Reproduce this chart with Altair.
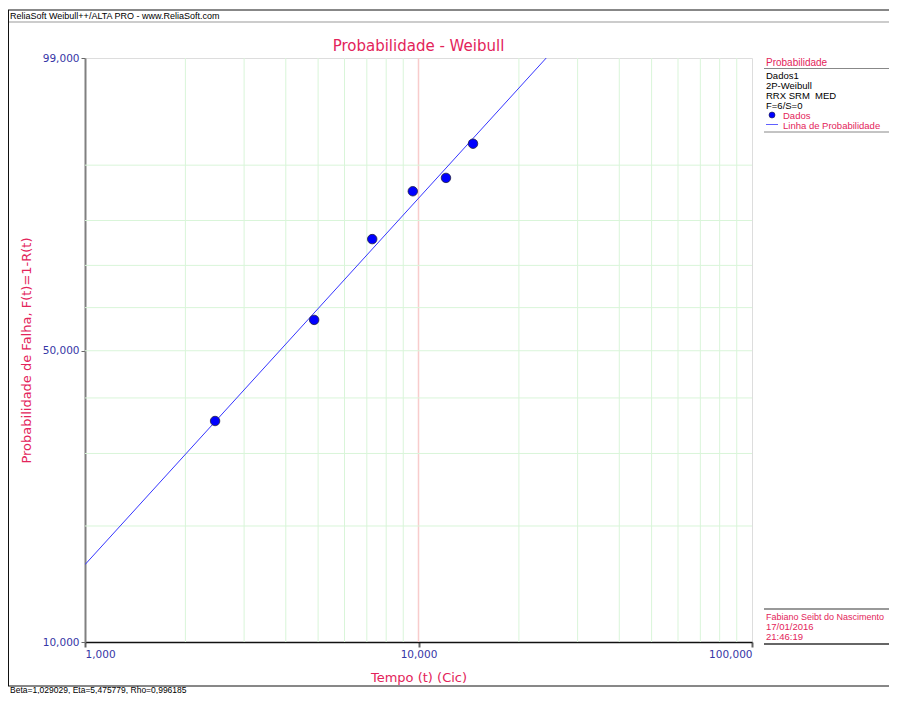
import math
import pandas as pd
import altair as alt

# ---- data ----
times = [2.455, 4.865, 7.265, 9.614, 12.09, 14.57]
probs = [0.356, 0.571, 0.760, 0.857, 0.880, 0.929]
beta = 1.029029
eta = 5.475779
line_t = [1.0, 100.0]
grid_x = [2, 3, 4, 5, 6, 7, 8, 9, 20, 30, 40, 50, 60, 70, 80, 90]
grid_x_center = [10]
grid_p = [0.2, 0.3, 0.4, 0.5, 0.6, 0.7, 0.8, 0.9]
x_ticks = [1, 10, 100]
y_tick_p = [0.10, 0.50, 0.99]
y_tick_labels = ["10,000", "50,000", "99,000"]

FONT = "DejaVu Sans"
PFONT = "Liberation Sans"
CRIMSON = "#e3245a"
LBLUE = "#3636a6"


def W(p):
    return math.log(-math.log(1 - p))


pts = pd.DataFrame({"t": times, "w": [W(p) for p in probs]})
fit = pd.DataFrame({"t": line_t, "w": [beta * math.log(t / eta) for t in line_t]})
gx = pd.DataFrame({"t": grid_x})
gxc = pd.DataFrame({"t": grid_x_center})
gy = pd.DataFrame({"w": [W(p) for p in grid_p]})
one = pd.DataFrame({"a": [0]})

xscale = alt.Scale(type="log", domain=[1, 100], nice=False)
yscale = alt.Scale(domain=[W(0.10), W(0.99)], nice=False, zero=False)

ytv = [W(p) for p in y_tick_p]
y_label_expr = (
    f"datum.value < {(ytv[0] + ytv[1]) / 2} ? '{y_tick_labels[0]}' : "
    f"(datum.value < {(ytv[1] + ytv[2]) / 2} ? '{y_tick_labels[1]}' : '{y_tick_labels[2]}')"
)

xaxis = alt.Axis(
    values=x_ticks,
    labelExpr="replace(format(datum.value, '.3f'), '.', ',')",
    title="Tempo (t) (Cic)",
    grid=False, domainColor="#111111", domainWidth=1.5,
    tickColor="#666666", tickSize=5, tickWidth=2,
    labelColor=LBLUE, labelFontSize=10.5, labelFont=FONT, labelPadding=2,
    titleColor=CRIMSON, titleFontSize=13, titleFont=FONT,
    titleFontWeight="normal", titlePadding=12,
)
yaxis = alt.Axis(
    values=ytv, labelExpr=y_label_expr,
    title="Probabilidade de Falha, F(t)=1-R(t)",
    grid=False, domainColor="#808080", domainWidth=2,
    tickColor="#666666", tickSize=4,
    labelColor=LBLUE, labelFontSize=10.5, labelFont=FONT, labelPadding=2,
    titleColor=CRIMSON, titleFontSize=13, titleFont=FONT,
    titleFontWeight="normal", titlePadding=9,
)

X = alt.X("t:Q", scale=xscale, axis=xaxis)
Y = alt.Y("w:Q", scale=yscale, axis=yaxis)

vgrid = alt.Chart(gx).mark_rule(color="#d9f5d9", strokeWidth=1).encode(x=X)
vgrid_c = alt.Chart(gxc).mark_rule(color="#f8cccc", strokeWidth=1.5).encode(x=X)
hgrid = alt.Chart(gy).mark_rule(color="#d9f5d9", strokeWidth=1).encode(y=Y)

fit_line = alt.Chart(fit).mark_line(color="#3535ff", strokeWidth=1, clip=True).encode(x=X, y=Y)

points = alt.Chart(pts).mark_point(
    filled=True, shape="circle", size=90, color="#0000ff",
    stroke="#202040", strokeWidth=0.8, opacity=1,
).encode(x=X, y=Y)


def txt(s, x, y, color="black", size=9.5, align="left", font=PFONT):
    return alt.Chart(one).mark_text(
        text=s, align=align, baseline="alphabetic", font=font,
        fontSize=size, color=color,
    ).encode(x=alt.value(x), y=alt.value(y))


def hline(x1, x2, y, color="#888888", w=1):
    return alt.Chart(one).mark_rule(color=color, strokeWidth=w).encode(
        x=alt.value(x1), x2=alt.value(x2), y=alt.value(y)
    )


def vline(x, y1, y2, color="#111111", w=1):
    return alt.Chart(one).mark_rule(color=color, strokeWidth=w).encode(
        x=alt.value(x), y=alt.value(y1), y2=alt.value(y2)
    )


R = 804  # right edge of the drawing, in plot coordinates

deco = [
    hline(-77, R, -48, "#111111", 1),
    hline(-77, R, -36, "#999999", 1),
    vline(-76.5, -48, 628, "#111111", 1),
    hline(-77, R, 628, "#111111", 1),
    txt("ReliaSoft Weibull++/ALTA PRO - www.ReliaSoft.com", -75, -39, size=9),
    txt("Probabilidade - Weibull", 333.5, -7, CRIMSON, 15, "center", FONT),
    txt("Probabilidade", 681, 7.5, CRIMSON, 10),
    hline(679, R, 10.5, "#888888", 1),
    txt("Dados1", 681, 21),
    txt("2P-Weibull", 681, 31),
    txt("RRX SRM\u00a0\u00a0MED", 681, 41),
    txt("F=6/S=0", 681, 50.5),
    alt.Chart(one).mark_point(filled=True, shape="circle", size=36, color="#0000ff",
                              stroke="#202040", strokeWidth=0.6, opacity=1).encode(
        x=alt.value(687), y=alt.value(57)
    ),
    txt("Dados", 698, 61, CRIMSON),
    hline(681, 693, 66.5, "#6060ff", 1),
    txt("Linha de Probabilidade", 698, 70.5, CRIMSON),
    hline(679, R, 74, "#888888", 1),
    hline(679, R, 551, "#777777", 1.5),
    txt("Fabiano Seibt do Nascimento", 681, 561.5, CRIMSON, 9),
    txt("17/01/2016", 681, 572, CRIMSON),
    txt("21:46:19", 681, 582, CRIMSON),
    hline(679, R, 586, "#333333", 1.5),
    txt("Beta=1,029029, Eta=5,475779, Rho=0,996185", -75, 635, size=8.5),
]

chart = alt.layer(vgrid, vgrid_c, hgrid, fit_line, points, *deco).properties(
    width=667,
    height=584,
    autosize=alt.AutoSizeParams(type="none"),
    padding={"left": 77, "top": 50, "right": 137, "bottom": 52},
).configure_view(stroke="#999999", strokeWidth=1.5).configure(background="white")

chart.save("out.html", embed_options={"renderer": "svg", "actions": False})
